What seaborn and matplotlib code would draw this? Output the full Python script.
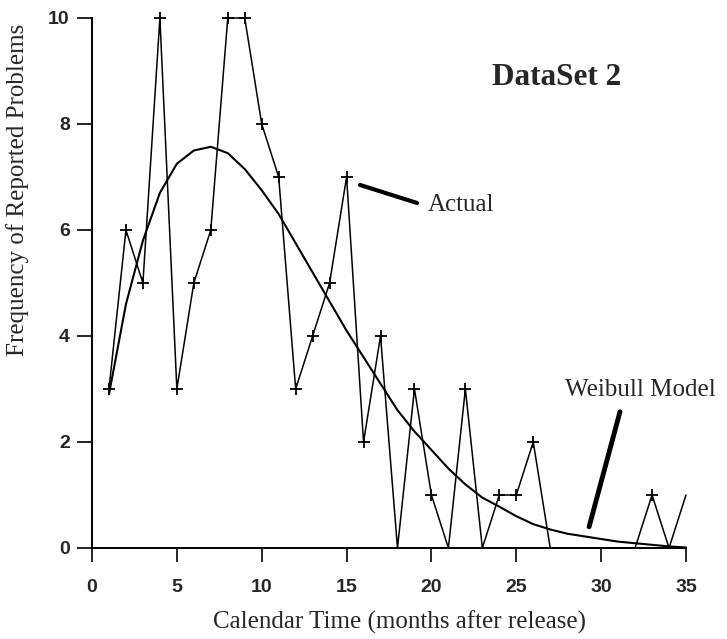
import matplotlib
matplotlib.use("Agg")
import matplotlib.pyplot as plt
import seaborn as sns
import pandas as pd

# ---- data ----
months = list(range(1, 36))
actual = [3, 6, 5, 10, 3, 5, 6, 10, 10, 8, 7, 3, 4, 5, 7, 2, 4, 0, 3, 1,
          0, 3, 0, 1, 1, 2, 0, 0, 0, 0, 0, 0, 1, 0, 1]
weibull = [2.9, 4.6, 5.8, 6.7, 7.25, 7.5, 7.57, 7.45, 7.15, 6.75, 6.3, 5.75,
           5.2, 4.65, 4.1, 3.6, 3.1, 2.6, 2.2, 1.85, 1.5, 1.2, 0.95, 0.78,
           0.6, 0.45, 0.35, 0.27, 0.22, 0.17, 0.12, 0.09, 0.06, 0.03, 0.01]
x_ticks = [0, 5, 10, 15, 20, 25, 30, 35]
y_ticks = [0, 2, 4, 6, 8, 10]

df = pd.DataFrame({"month": months, "actual": actual, "weibull": weibull})
# markers only on the non-zero points (last point drawn without marker)
marked = [i for i, v in enumerate(actual[:-1]) if v > 0]

sns.set_theme(style="ticks")
serif = ["Liberation Serif", "DejaVu Serif"]
sans = ["Liberation Sans", "DejaVu Sans"]

fig = plt.figure(figsize=(7.27, 6.39), dpi=100)
ax = fig.add_axes([92 / 727, 1 - 548 / 639, 594 / 727, 530 / 639])

sns.lineplot(data=df, x="month", y="actual", ax=ax, color="black", lw=1.1,
             marker="+", markersize=9, markeredgewidth=1.3,
             markeredgecolor="black", markerfacecolor="black",
             markevery=marked, clip_on=False)
sns.lineplot(data=df, x="month", y="weibull", ax=ax, color="black", lw=1.5,
             clip_on=False)

ax.set_xlim(0, 35)
ax.set_ylim(0, 10)
ax.set_xticks(x_ticks)
ax.set_yticks(y_ticks)
ax.set_xticklabels([str(t) for t in x_ticks], family=sans, fontsize=14, weight="bold")
ax.set_yticklabels([str(t) for t in y_ticks], family=sans, fontsize=14, weight="bold")
ax.tick_params(axis="x", length=10, width=1.2, pad=12, color="black")
ax.tick_params(axis="y", length=11, width=1.2, pad=5, color="black")
sns.despine(ax=ax)
for s in ["left", "bottom"]:
    ax.spines[s].set_linewidth(1.4)
    ax.spines[s].set_color("black")

ax.set_xlabel("Calendar Time (months after release)", family=serif, fontsize=18)
ax.set_ylabel("Frequency of Reported Problems", family=serif, fontsize=18)
ax.xaxis.set_label_coords(0.5185, -0.118)
ax.yaxis.set_label_coords(-0.106, 0.675)

ax.text(27.4, 8.87, "DataSet 2", family=serif, fontsize=22.5, weight="bold",
        ha="center", va="center")
ax.text(19.8, 6.47, "Actual", family=serif, fontsize=18, ha="left", va="center")
ax.plot([15.79, 19.15], [6.85, 6.51], color="black", lw=3, solid_capstyle="round")
ax.text(27.87, 2.98, "Weibull Model", family=serif, fontsize=18, ha="left",
        va="center", clip_on=False)
ax.plot([31.11, 29.29], [2.57, 0.40], color="black", lw=3.5, solid_capstyle="round")

fig.savefig("out.png", dpi=100)
